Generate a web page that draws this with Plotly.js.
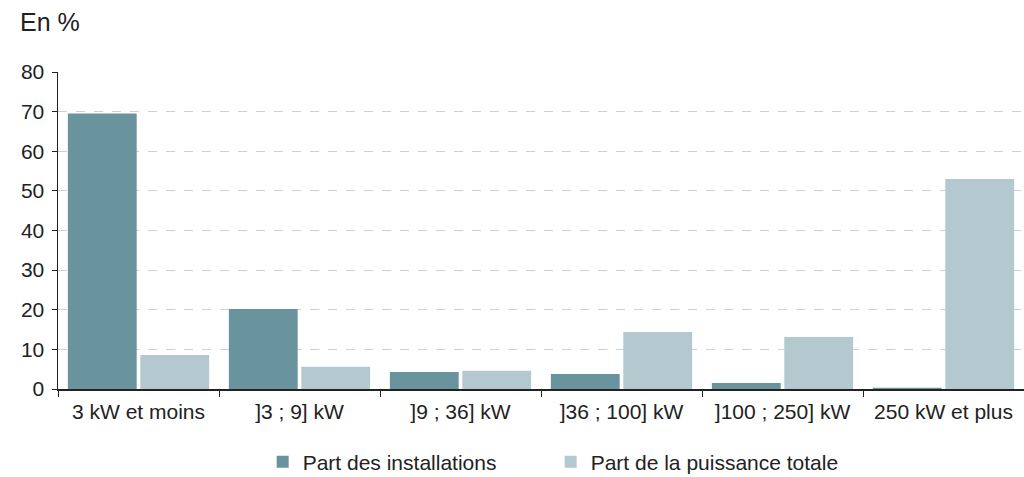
<!DOCTYPE html>
<html>
<head>
<meta charset="utf-8">
<script src="https://cdn.plot.ly/plotly-3.0.1.min.js"></script>
<style>html,body{margin:0;padding:0;background:#fff;}#chart{width:1024px;height:477px;}</style>
</head>
<body>
<div id="chart"></div>
<script>
const categories = ["3 kW et moins", "]3 ; 9] kW", "]9 ; 36] kW", "]36 ; 100] kW", "]100 ; 250] kW", "250 kW et plus"];
const partInstallations = [69.5, 20.2, 4.3, 3.8, 1.5, 0.3];
const partPuissance = [8.6, 5.6, 4.6, 14.4, 13.1, 53.0];
const seriesNames = ["Part des installations", "Part de la puissance totale"];
const yTicks = [0, 10, 20, 30, 40, 50, 60, 70, 80];

const font = "Liberation Sans, Arial, sans-serif";
const traces = [
  {type: "bar", x: categories, y: partInstallations, name: seriesNames[0], marker: {color: "#6a949d"}},
  {type: "bar", x: categories, y: partPuissance, name: seriesNames[1], marker: {color: "#b3c9cf"}}
];
const layout = {
  width: 1024, height: 477,
  margin: {l: 58, r: 0, t: 72, b: 88},
  paper_bgcolor: "#fff", plot_bgcolor: "#fff",
  font: {family: font, size: 21, color: "#222"},
  barmode: "group", bargap: 0.1, bargroupgap: 0.05,
  title: {text: "En %", xref: "container", x: 20/1024, xanchor: "left", yref: "container", y: 1 - 22/477, yanchor: "middle", font: {size: 25, color: "#222"}},
  xaxis: {
    type: "category", showline: true, linecolor: "#222", linewidth: 1.5,
    ticks: "outside", tickson: "boundaries", ticklen: 6, tickcolor: "#222",
    showgrid: false, tickfont: {size: 21, color: "#222"}, ticklabelstandoff: 3
  },
  yaxis: {
    range: [0, 80], tickvals: yTicks, showline: true, linecolor: "#222", linewidth: 1.5,
    ticks: "outside", ticklen: 5, tickcolor: "#222",
    showgrid: true, gridcolor: "#d0d0d0", griddash: "dash", gridwidth: 1,
    zeroline: false, tickfont: {size: 21, color: "#222"}, ticklabelstandoff: 3
  },
  showlegend: true,
  legend: {orientation: "h", x: 0.51, xanchor: "center", yref: "container", y: 1 - 462/477, yanchor: "middle",
    font: {size: 21, color: "#222"}, entrywidth: 243}
};
Plotly.newPlot("chart", traces, layout, {displayModeBar: false, staticPlot: true});
</script>
</body>
</html>
